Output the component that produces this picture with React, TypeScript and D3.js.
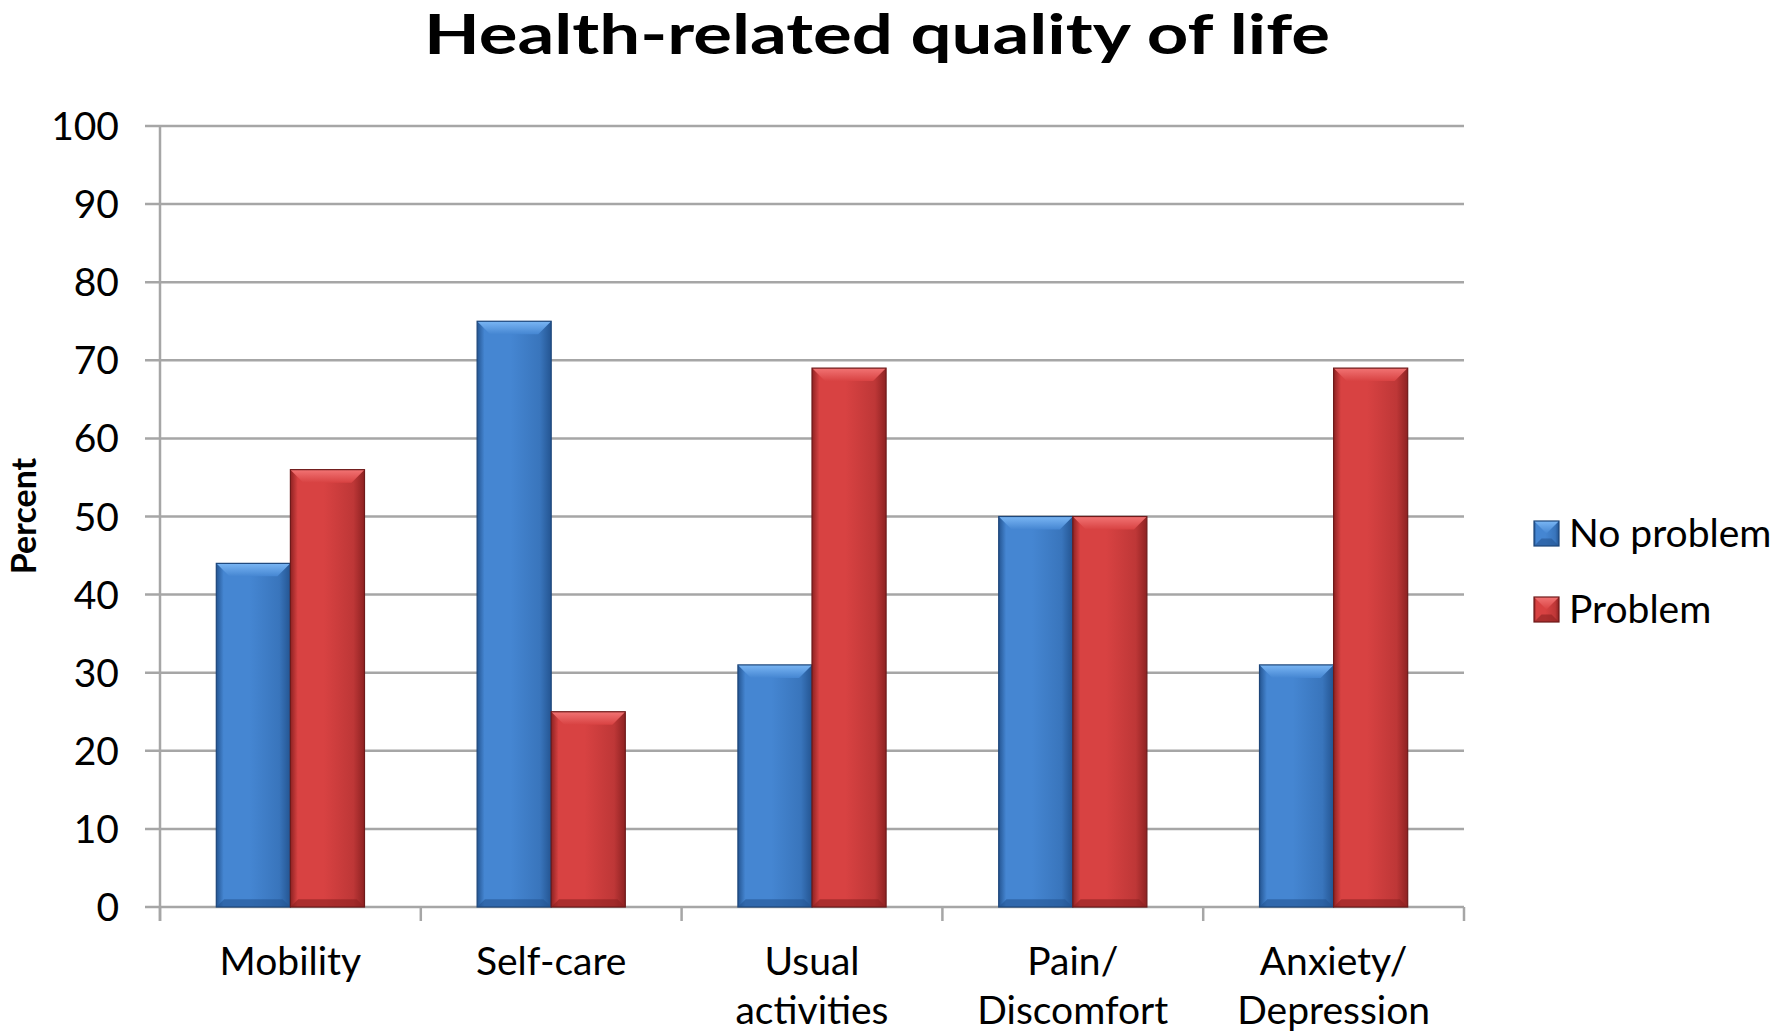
import { useRef, useEffect } from "react";
import * as d3 from "d3";

const categories = ["Mobility", "Self-care", "Usual\nactivities", "Pain/\nDiscomfort", "Anxiety/\nDepression"];
const seriesNames = ["No problem", "Problem"];
const noProblem = [44, 75, 31, 50, 31];
const problem = [56, 25, 69, 50, 69];
const yTicks = [0, 10, 20, 30, 40, 50, 60, 70, 80, 90, 100];

const W = 1777;
const H = 1035;
const FONT = "Lato, 'Open Sans', sans-serif";

// colours for each series: edge, mid, light (top bevel), outline
const PALETTE = [
  { edge: "#245592", mid: "#4586d2", light: "#7ab6f4", line: "#1d467a" },
  { edge: "#8e2222", mid: "#d84242", light: "#f27474", line: "#6e1a1a" },
];

export default function App() {
  const svgRef = useRef<SVGSVGElement>(null);

  useEffect(() => {
    if (!svgRef.current) return;
    const svg = d3.select(svgRef.current);
    svg.selectAll("*").remove();

    const left = 160;
    const right = 1464;
    const top = 126;
    const bottom = 907;

    const y = d3.scaleLinear().domain([0, 100]).range([bottom, top]);
    const x0 = d3.scaleBand<string>().domain(categories).range([left, right]).padding(0);
    const x1 = d3
      .scaleBand<string>()
      .domain(seriesNames)
      .range([0, x0.bandwidth()])
      .paddingInner(0)
      .paddingOuter(0.76);

    const defs = svg.append("defs");
    PALETTE.forEach((p, i) => {
      const g = defs.append("linearGradient").attr("id", `body${i}`).attr("x1", 0).attr("x2", 1).attr("y1", 0).attr("y2", 0);
      g.append("stop").attr("offset", "0").attr("stop-color", p.edge);
      g.append("stop").attr("offset", "0.1").attr("stop-color", p.mid);
      g.append("stop").attr("offset", "0.45").attr("stop-color", p.mid);
      g.append("stop").attr("offset", "0.85").attr("stop-color", d3.interpolateRgb(p.mid, p.edge)(0.35));
      g.append("stop").attr("offset", "1").attr("stop-color", p.edge);
      const t = defs.append("linearGradient").attr("id", `top${i}`).attr("x1", 0).attr("x2", 0).attr("y1", 0).attr("y2", 1);
      t.append("stop").attr("offset", "0").attr("stop-color", p.light);
      t.append("stop").attr("offset", "1").attr("stop-color", p.mid);
    });

    // title
    svg.append("text")
      .attr("x", 877)
      .attr("y", 54)
      .attr("text-anchor", "middle")
      .attr("textLength", 906)
      .attr("lengthAdjust", "spacingAndGlyphs")
      .style("font-family", FONT)
      .style("font-size", "56px")
      .style("font-weight", "700")
      .style("fill", "#000")
      .text("Health-related quality of life");

    // gridlines
    svg.append("g")
      .selectAll("line")
      .data(yTicks)
      .join("line")
      .attr("x1", left - 15)
      .attr("x2", right)
      .attr("y1", (d) => y(d))
      .attr("y2", (d) => y(d))
      .attr("stroke", "#a6a6a6")
      .attr("stroke-width", 2.5);

    // y axis line
    svg.append("line")
      .attr("x1", left).attr("x2", left)
      .attr("y1", top).attr("y2", bottom + 14)
      .attr("stroke", "#a6a6a6").attr("stroke-width", 2.5);

    // x tick marks at category boundaries
    const bounds = categories.map((c) => x0(c)!).concat([right]);
    svg.append("g")
      .selectAll("line")
      .data(bounds)
      .join("line")
      .attr("x1", (d) => d).attr("x2", (d) => d)
      .attr("y1", bottom).attr("y2", bottom + 14)
      .attr("stroke", "#a6a6a6").attr("stroke-width", 2.5);

    // y tick labels
    svg.append("g")
      .selectAll("text")
      .data(yTicks)
      .join("text")
      .attr("x", 119)
      .attr("y", (d) => y(d))
      .attr("dy", "0.36em")
      .attr("text-anchor", "end")
      .style("font-family", FONT)
      .style("font-size", "39px")
      .style("fill", "#000")
      .text((d) => d);

    // y axis title
    svg.append("text")
      .attr("transform", `translate(36,516) rotate(-90)`)
      .attr("text-anchor", "middle")
      .style("font-family", FONT)
      .style("font-size", "34px")
      .style("font-weight", "700")
      .style("fill", "#000")
      .text("Percent");

    // bars with bevel
    const drawBar = (g: d3.Selection<SVGGElement, unknown, null, undefined>, bx: number, by: number, bw: number, bh: number, i: number) => {
      const p = PALETTE[i];
      const b = Math.min(13, bh / 2);
      g.append("rect").attr("x", bx).attr("y", by).attr("width", bw).attr("height", bh).attr("fill", `url(#body${i})`);
      // top bevel
      g.append("path")
        .attr("d", `M${bx},${by}L${bx + bw},${by}L${bx + bw - b},${by + b}L${bx + b},${by + b}Z`)
        .attr("fill", `url(#top${i})`);
      // bottom bevel
      g.append("path")
        .attr("d", `M${bx},${by + bh}L${bx + bw},${by + bh}L${bx + bw - b * 0.6},${by + bh - b * 0.6}L${bx + b * 0.6},${by + bh - b * 0.6}Z`)
        .attr("fill", p.edge)
        .attr("opacity", 0.6);
      g.append("rect").attr("x", bx).attr("y", by).attr("width", bw).attr("height", bh)
        .attr("fill", "none").attr("stroke", p.line).attr("stroke-width", 1.2);
    };

    const barsG = svg.append("g");
    const series = [noProblem, problem];
    categories.forEach((c, ci) => {
      series.forEach((vals, si) => {
        const bx = x0(c)! + x1(seriesNames[si])!;
        const by = y(vals[ci]);
        drawBar(barsG, bx, by, x1.bandwidth(), bottom - by, si);
      });
    });

    // category labels
    const labels = svg.append("g");
    categories.forEach((c) => {
      const cx = x0(c)! + x0.bandwidth() / 2;
      const t = labels.append("text")
        .attr("x", cx)
        .attr("y", 975)
        .attr("text-anchor", "middle")
        .style("font-family", FONT)
        .style("font-size", "39px")
        .style("fill", "#000");
      c.split("\n").forEach((line, li) => {
        t.append("tspan").attr("x", cx).attr("dy", li === 0 ? 0 : 49).text(line);
      });
    });

    // legend
    const legend = svg.append("g");
    seriesNames.forEach((name, i) => {
      const cy = 533 + i * 76;
      drawBar(legend, 1534, cy - 12, 25, 25, i);
      legend.append("text")
        .attr("x", 1569)
        .attr("y", cy)
        .attr("dy", "0.36em")
        .style("font-family", FONT)
        .style("font-size", "39px")
        .style("fill", "#000")
        .text(name);
    });
  }, []);

  return (
    <svg
      ref={svgRef}
      width={W}
      height={H}
      viewBox={`0 0 ${W} ${H}`}
      style={{ position: "absolute", left: 0, top: 0, background: "#fff" }}
    />
  );
}
